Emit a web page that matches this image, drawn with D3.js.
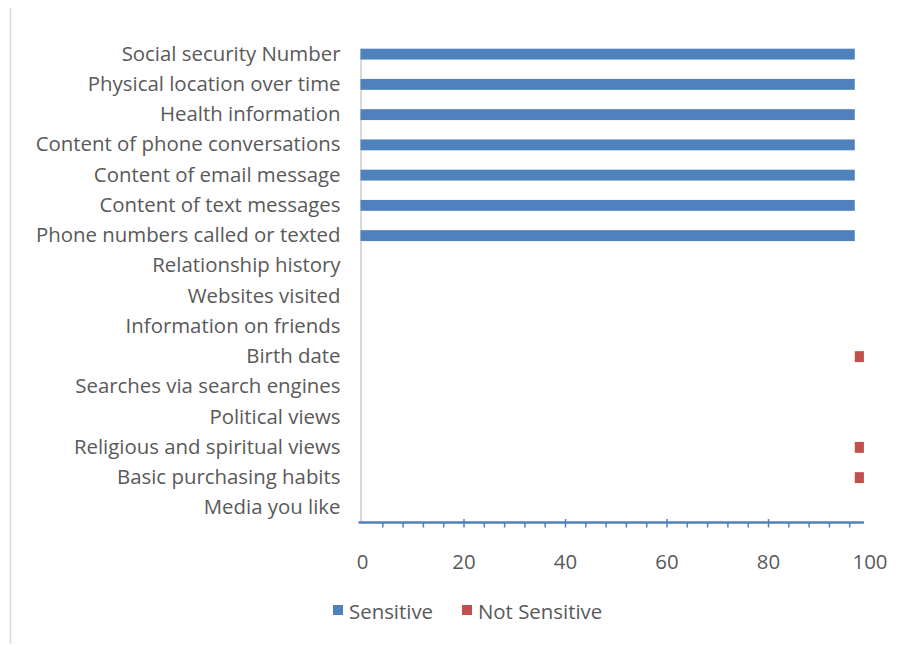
<!DOCTYPE html>
<html>
<head>
<meta charset="utf-8">
<script src="https://cdn.jsdelivr.net/npm/d3@7"></script>
<style>
  html, body { margin: 0; padding: 0; background: #fff; }
  svg { display: block; }
</style>
</head>
<body>
<div id="chart"></div>
<script>
// Categories, top to bottom
const CATEGORIES = [
  'Social security Number',
  'Physical location over time',
  'Health information',
  'Content of phone conversations',
  'Content of email message',
  'Content of text messages',
  'Phone numbers called or texted',
  'Relationship history',
  'Websites visited',
  'Information on friends',
  'Birth date',
  'Searches via search engines',
  'Political views',
  'Religious and spiritual views',
  'Basic purchasing habits',
  'Media you like'
]
const SENSITIVE = [97, 97, 97, 97, 97, 97, 97, 0, 0, 0, 0, 0, 0, 0, 0, 0]
const NOT_SENSITIVE = [0, 0, 0, 0, 0, 0, 0, 0, 0, 0, 1.8, 0, 0, 1.8, 1.8, 0]
const X_TICKS = [0, 20, 40, 60, 80, 100]
const X_MINOR = d3.range(4, 97, 4)
const SERIES = ['Sensitive', 'Not Sensitive']
const COLORS = ['#4f81bd', '#c0504d']

const W = 907, H = 646
const FONT = '"Open Sans", Lato, sans-serif'
const FS = 20.4
const TXT = '#595959'

const svg = d3.select('#chart').append('svg').attr('width', W).attr('height', H)

// outer chart border (left edge only is visible)
svg.append('line')
  .attr('x1', 10.5).attr('x2', 10.5).attr('y1', 8).attr('y2', 644)
  .attr('stroke', '#d9d9d9').attr('stroke-width', 1.5)

const x = d3.scaleLinear().domain([0, 100]).range([362.5, 870])
const y = d3.scaleBand().domain(CATEGORIES).range([39, 523]).paddingInner(0.64).paddingOuter(0.32)

// value axis end (Excel clipped it just short of 100)
const axisMax = 98.8

// vertical category axis line
svg.append('line')
  .attr('x1', x(0) - 1.5).attr('x2', x(0) - 1.5)
  .attr('y1', y(CATEGORIES[0])).attr('y2', 523)
  .attr('stroke', '#d9d9d9').attr('stroke-width', 2)

// blue bars
svg.selectAll('.bar-s')
  .data(CATEGORIES.map((c, i) => ({ c, v: SENSITIVE[i] })).filter(d => d.v > 0))
  .enter().append('rect')
  .attr('class', 'bar-s')
  .attr('x', x(0) - 2)
  .attr('y', d => y(d.c))
  .attr('width', d => x(d.v) - x(0) + 2)
  .attr('height', y.bandwidth())
  .attr('fill', COLORS[0])

// red segments stacked after the sensitive extent
const base = d3.max(SENSITIVE)
svg.selectAll('.bar-n')
  .data(CATEGORIES.map((c, i) => ({ c, v: NOT_SENSITIVE[i] })).filter(d => d.v > 0))
  .enter().append('rect')
  .attr('class', 'bar-n')
  .attr('x', x(base))
  .attr('y', d => y(d.c))
  .attr('width', d => x(base + d.v) - x(base))
  .attr('height', y.bandwidth())
  .attr('fill', COLORS[1])

// category labels
svg.append('g')
  .attr('transform', `translate(${x(0) - 22},0)`)
  .call(d3.axisLeft(y).tickSize(0).tickPadding(0))
  .call(g => g.select('.domain').remove())
  .call(g => g.selectAll('text')
    .attr('fill', TXT).attr('font-size', FS).attr('font-family', FONT))

// value axis
const axisY = 522.5
svg.append('line')
  .attr('x1', x(0) - 4).attr('x2', x(axisMax))
  .attr('y1', axisY).attr('y2', axisY)
  .attr('stroke', COLORS[0]).attr('stroke-width', 2.5)

svg.selectAll('.minor')
  .data(X_MINOR)
  .enter().append('line')
  .attr('class', 'minor')
  .attr('x1', d => x(d)).attr('x2', d => x(d))
  .attr('y1', d => d % 20 === 0 ? axisY - 3.5 : axisY)
  .attr('y2', axisY + 5)
  .attr('stroke', COLORS[0]).attr('stroke-width', 1.5)

svg.selectAll('.xlab')
  .data(X_TICKS)
  .enter().append('text')
  .attr('class', 'xlab')
  .attr('x', d => x(d)).attr('y', 568.5)
  .attr('text-anchor', 'middle')
  .attr('fill', TXT).attr('font-size', FS).attr('font-family', FONT)
  .text(d => d)

// legend
const legend = svg.append('g').attr('transform', 'translate(333,605)')
const legX = [0, 129]
SERIES.forEach((s, i) => {
  const row = legend.append('g').attr('transform', `translate(${legX[i]},0)`)
  row.append('rect').attr('width', 10).attr('height', 10).attr('fill', COLORS[i])
  row.append('text')
    .attr('x', 16).attr('y', 13.5)
    .attr('fill', TXT).attr('font-size', FS).attr('font-family', FONT)
    .text(s)
})
</script>
</body>
</html>
